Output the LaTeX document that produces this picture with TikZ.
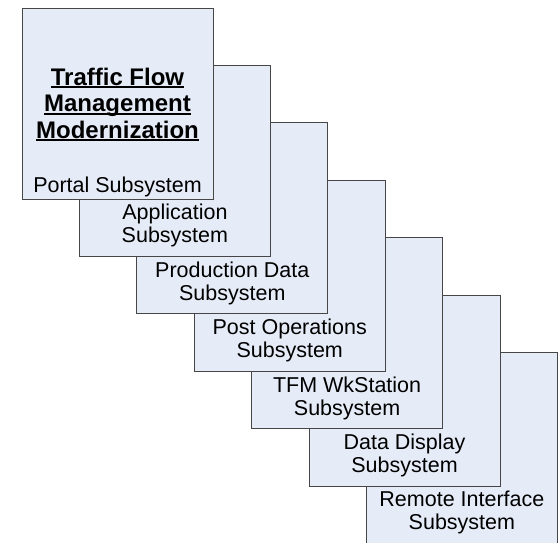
\documentclass[tikz,border=0pt]{standalone}
\usepackage{fontspec}
\setmainfont{Liberation Sans}
\definecolor{boxfill}{RGB}{230,236,247}
\definecolor{boxline}{RGB}{70,70,70}
\newcommand\myul[1]{\setbox0\hbox{#1}\rlap{\rule[-3.2pt]{\wd0}{1.8pt}}\box0}
\tikzset{
  sbox/.style={draw=boxline, fill=boxfill, line width=1pt},
  lbl/.style={anchor=base, align=center, inner sep=0pt, font=\fontsize{21.5}{23}\selectfont},
  ttl/.style={anchor=base, align=center, inner sep=0pt, font=\fontsize{24}{26.5}\selectfont\bfseries},
}
\begin{document}
\begin{tikzpicture}[x=1pt,y=-1pt]
\useasboundingbox (0,0) rectangle (558,542);
\clip (0,0) rectangle (558,542);
% boxes, drawn back to front
\foreach \k in {6,5,4,3,2,1,0}{
  \path[sbox] ({22+57.4*\k},{8+57.4*\k}) rectangle ++(191,191);
}
\node[ttl] (title) at (117.5,138) {\myul{Traffic Flow}\\\myul{Management}\\\myul{Modernization}};
\node[lbl] (p0) at (117.5,192.3) {Portal Subsystem};
\node[lbl] (p1) at ({117.5+57.4*1},{199+57.4*1-13.5}) {Application\\Subsystem};
\node[lbl] (p2) at ({117.5+57.4*2},{199+57.4*2-13.5}) {Production Data\\Subsystem};
\node[lbl] (p3) at ({117.5+57.4*3},{199+57.4*3-13.5}) {Post Operations\\Subsystem};
\node[lbl] (p4) at ({117.5+57.4*4},{199+57.4*4-13.5}) {TFM WkStation\\Subsystem};
\node[lbl] (p5) at ({117.5+57.4*5},{199+57.4*5-13.5}) {Data Display\\Subsystem};
\node[lbl] (p6) at ({117.5+57.4*6},{199+57.4*6-13.5}) {Remote Interface\\Subsystem};
\end{tikzpicture}
\end{document}
